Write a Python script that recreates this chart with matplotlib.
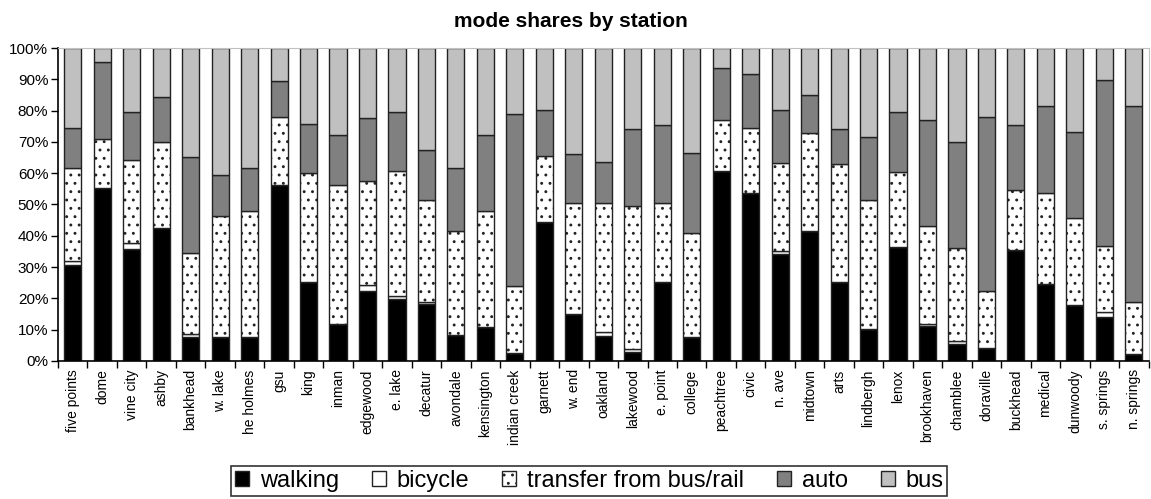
import numpy as np
import matplotlib
matplotlib.use('Agg')
import matplotlib.pyplot as plt

plt.rcParams['font.family'] = ['Liberation Sans', 'DejaVu Sans']
plt.rcParams['hatch.linewidth'] = 0.9

stations = ['five points', 'dome', 'vine city', 'ashby', 'bankhead', 'w. lake', 'he holmes',
            'gsu', 'king', 'inman', 'edgewood', 'e. lake', 'decatur', 'avondale', 'kensington',
            'indian creek', 'garnett', 'w. end', 'oakland', 'lakewood', 'e. point', 'college',
            'peachtree', 'civic', 'n. ave', 'midtown', 'arts', 'lindbergh', 'lenox',
            'brookhaven', 'chamblee', 'doraville', 'buckhead', 'medical', 'dunwoody',
            's. springs', 'n. springs']

# shares in percent
walking = [30.7, 55.2, 35.7, 42.6, 7.7, 7.8, 7.8, 56.1, 25.1, 11.8, 22.4, 19.7, 18.1, 8.4, 11.0,
           2.7, 44.3, 14.9, 8.0, 3.0, 25.1, 7.6, 60.6, 53.6, 34.2, 41.4, 25.1, 10.1, 36.4,
           11.2, 5.4, 4.1, 35.5, 24.6, 17.9, 14.0, 2.2]
bicycle = [1.1, 0.0, 1.9, 0.0, 0.8, 0.0, 0.0, 0.0, 0.0, 0.0, 1.9, 1.1, 0.7, 0.0, 0.0,
           0.0, 0.0, 0.0, 1.1, 0.8, 0.0, 0.0, 0.0, 0.0, 1.0, 0.0, 0.0, 0.0, 0.0,
           0.6, 1.0, 0.0, 0.0, 0.0, 0.0, 1.5, 0.0]
transfer = [29.8, 15.7, 26.7, 27.3, 25.9, 38.4, 40.0, 21.7, 35.1, 44.5, 33.3, 40.0, 32.7, 33.0, 37.0,
            21.1, 21.3, 35.7, 41.5, 45.6, 25.5, 33.4, 16.5, 20.8, 28.0, 31.6, 37.9, 41.4, 23.9,
            31.4, 29.6, 18.1, 19.2, 29.0, 27.9, 21.1, 16.8]
auto = [12.8, 24.6, 15.1, 14.6, 30.7, 13.3, 14.0, 11.5, 15.6, 16.0, 20.0, 18.9, 16.0, 20.4, 24.3,
        55.2, 14.6, 15.5, 12.9, 24.7, 24.7, 25.6, 16.6, 17.3, 17.0, 12.1, 11.1, 20.2, 19.4,
        33.9, 33.9, 55.7, 20.7, 28.0, 27.4, 53.3, 62.6]
bus = [100 - w - b - t - a for w, b, t, a in zip(walking, bicycle, transfer, auto)]

modes = ['walking', 'bicycle', 'transfer from bus/rail', 'auto', 'bus']
series = [walking, bicycle, transfer, auto, bus]
colors = ['#000000', '#ffffff', '#ffffff', '#808080', '#c0c0c0']
hatches = [None, None, '..', None, None]

fig = plt.figure(figsize=(11.51, 4.99), dpi=100)
ax = fig.add_axes([0.0504, 0.2766, 0.9475, 0.6272])

x = np.arange(len(stations))
bottom = np.zeros(len(stations))
for name, vals, c, h in zip(modes, series, colors, hatches):
    vals = np.array(vals)
    ax.bar(x, vals, 0.58, bottom=bottom, color=c, hatch=h, edgecolor='#222222',
           linewidth=1.0, label=name)
    bottom += vals

ax.set_xlim(-0.5, len(stations) - 0.5)
ax.set_ylim(0, 100)
ax.set_yticks(np.arange(0, 101, 10))
ax.set_yticklabels([f'{v}%' for v in range(0, 101, 10)], fontsize=11)
ax.set_xticks(x)
ax.set_xticklabels(stations, rotation=90, fontsize=10)
ax.tick_params(axis='x', length=0, pad=6)
ax.set_xticks(np.arange(-0.5, len(stations), 1), minor=True)
ax.tick_params(axis='x', which='minor', length=5, width=1, color='black')
ax.tick_params(axis='y', length=5, width=1, pad=2)

ax.spines['top'].set_color('#c0c0c0')
ax.spines['right'].set_color('#c0c0c0')
ax.spines['left'].set_linewidth(1.2)
ax.spines['bottom'].set_linewidth(1.2)

fig.text(0.496, 0.956, 'mode shares by station', ha='center', va='center',
         fontsize=15, fontweight='bold')

leg = fig.legend(loc='center', bbox_to_anchor=(0.512, 0.036), ncol=5, fontsize=17,
                 frameon=True, fancybox=False, edgecolor='black', handlelength=0.6,
                 handleheight=0.6, handletextpad=0.45, columnspacing=1.4,
                 borderpad=0.15, borderaxespad=0)
leg.get_frame().set_linewidth(1.2)

fig.savefig('out.png', dpi=100)
